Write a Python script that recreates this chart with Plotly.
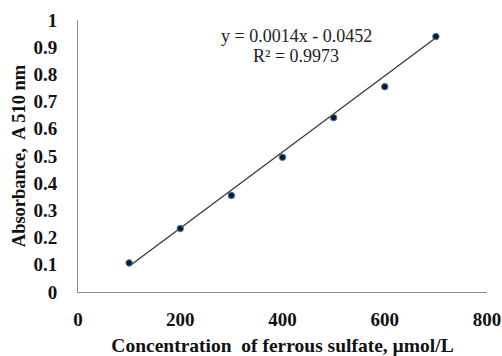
import plotly.graph_objects as go

conc = [100, 200, 300, 400, 500, 600, 700]
absorb = [0.107, 0.233, 0.355, 0.495, 0.641, 0.755, 0.939]
slope = 0.0014
intercept = -0.0452
r2 = 0.9973
x_ticks = [0, 200, 400, 600, 800]
y_ticks = [0, 0.1, 0.2, 0.3, 0.4, 0.5, 0.6, 0.7, 0.8, 0.9, 1]

fit_x = [conc[0], conc[-1]]
fit_y = [slope * v + intercept for v in fit_x]

fig = go.Figure()
fig.add_trace(go.Scatter(x=fit_x, y=fit_y, mode="lines",
                         line=dict(color="#333333", width=1.2), showlegend=False))
fig.add_trace(go.Scatter(x=conc, y=absorb, mode="markers",
                         marker=dict(size=6.5, color="#101a33", line=dict(color="#4a7cc4", width=1)),
                         showlegend=False))

serif = "Liberation Serif, Times New Roman, serif"
fig.add_annotation(x=0.535, y=0.941, xref="paper", yref="paper", showarrow=False,
                   yanchor="middle", xanchor="center",
                   text=f"y = {slope}x - {abs(intercept)}",
                   font=dict(family=serif, size=18, color="#222222"))
fig.add_annotation(x=0.533, y=0.868, xref="paper", yref="paper", showarrow=False,
                   yanchor="middle", xanchor="center",
                   text=f"R² = {r2}",
                   font=dict(family=serif, size=18, color="#222222"))

fig.update_layout(
    width=502, height=356,
    margin=dict(l=78, r=15, t=20, b=64),
    paper_bgcolor="white", plot_bgcolor="white",
    font=dict(family=serif, color="#111111"),
    xaxis=dict(range=[0, 800], tickvals=x_ticks, showgrid=False, zeroline=False,
               showline=True, linecolor="#8c8c8c", linewidth=1, ticks="",
               tickfont=dict(family=serif, size=19, color="#111111", weight="bold"),
               ticklabelstandoff=10, automargin=False,
               title=dict(text="Concentration  of ferrous sulfate, µmol/L",
                          font=dict(family=serif, size=19.5, weight="bold", color="#111111"),
                          standoff=12)),
    yaxis=dict(range=[0, 1], tickvals=y_ticks, ticktext=[str(v) for v in y_ticks],
               showgrid=False, zeroline=False, automargin=False,
               showline=True, linecolor="#8c8c8c", linewidth=1, ticks="",
               tickfont=dict(family=serif, size=19, color="#111111", weight="bold"),
               ticklabelstandoff=16,
               title=dict(text="Absorbance,  A 510 nm",
                          font=dict(family=serif, size=18.5, weight="bold", color="#111111"),
                          standoff=2)),
)

fig.write_html("out.html")
